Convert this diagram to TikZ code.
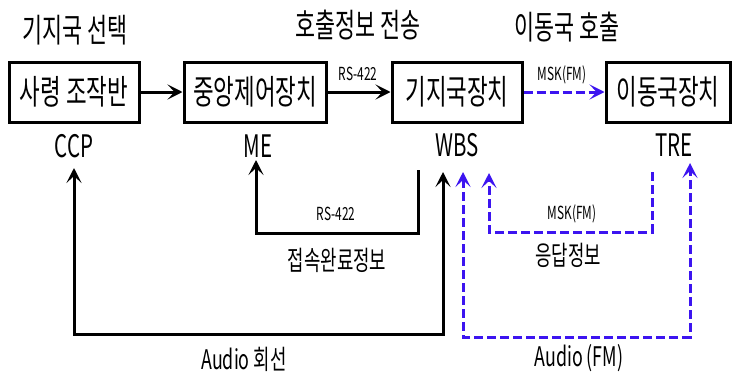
\documentclass[tikz,border=0pt]{standalone}
\usepackage{fontspec}
\setmainfont{Noto Sans CJK KR}[FakeStretch=0.66]
\usetikzlibrary{arrows.meta}
\definecolor{fmblue}{RGB}{60,20,240}
\begin{document}
\begin{tikzpicture}[x=1pt,y=-1pt,
  box/.style={draw,line width=3pt,minimum height=60pt,inner sep=0pt,font=\fontsize{34}{34}\selectfont},
  big/.style={font=\fontsize{31}{31}\selectfont,inner sep=0pt},
  head/.style={font=\fontsize{33}{33}\selectfont,inner sep=0pt},
  mid/.style={font=\fontsize{27}{27}\selectfont,inner sep=0pt},
  small/.style={font=\fontsize{18}{18}\selectfont,inner sep=0pt},
  wire/.style={line width=3pt,-{Stealth[length=15pt,width=15pt,inset=7pt]}},
  wire2/.style={line width=3pt,{Stealth[length=15pt,width=15pt,inset=7pt]}-{Stealth[length=15pt,width=15pt,inset=7pt]}},
  fm/.style={draw=fmblue,dash pattern=on 9pt off 4pt},
]
\useasboundingbox (0,0) rectangle (732,372);
% boxes
\node[box,minimum width=130pt] (ccp) at (74,92) {사령 조작반};
\node[box,minimum width=142pt] (me) at (255,92) {중앙제어장치};
\node[box,minimum width=130pt] (wbs) at (457,92) {기지국장치};
\node[box,minimum width=124pt] (tre) at (668,92) {이동국장치};
% top labels
\node[head] (t1) at (75,30) {기지국 선택};
\node[head] (t2) at (358,25) {호출정보 전송};
\node[head] (t3) at (567,27) {이동국 호출};
% box names
\node[big] (lccp) at (74,146) {CCP};
\node[big] (lme) at (258,146) {ME};
\node[big] (lwbs) at (457,145) {WBS};
\node[big] (ltre) at (674,145) {TRE};
% top connectors
\draw[wire] (ccp) -- (me);
\draw[wire] (me) -- (wbs);
\node[small] (rs1) at (358,74) {RS-422};
\draw[wire,fm] (wbs) -- (tre);
\node[small] (msk1) at (562,75) {MSK(FM)};
% RS-422 return loop
\coordinate (r0) at (418,170);
\coordinate (r1) at (256,160);
\draw[wire] (r0) |- (336,233) -| (r1);
\node[small] (rs2) at (336,214) {RS-422};
\node[mid] (l2) at (337,260) {접속완료정보};
% Audio line
\coordinate (a0) at (443,172);
\coordinate (a1) at (74,168);
\draw[wire2] (a0) |- (250,334) -| (a1);
\node[mid] (l3) at (244,359) {Audio 회선};
% MSK response
\coordinate (m0) at (652,172);
\coordinate (m1) at (489,173);
\draw[wire,fm] (m0) |- (570,232) -| (m1);
\node[small] (msk2) at (572,214) {MSK(FM)};
\node[mid] (l4) at (568,255) {응답정보};
% Audio FM
\coordinate (f0) at (463,172);
\coordinate (f1) at (690,163);
\draw[wire2,fm] (f0) |- (577,337) -| (f1);
\node[mid] (l5) at (579,358) {Audio (FM)};
\end{tikzpicture}
\end{document}
